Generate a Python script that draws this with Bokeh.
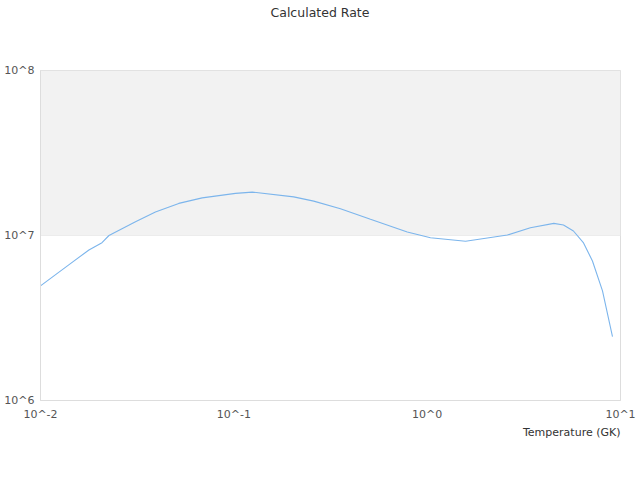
from bokeh.plotting import figure
from bokeh.embed import file_html
from bokeh.resources import INLINE
from bokeh.models import Title, FixedTicker, BoxAnnotation, CustomJSTickFormatter

temperature = [0.0100, 0.0140, 0.0178, 0.0208, 0.0226, 0.0310, 0.0393, 0.0519, 0.0686,
               0.102, 0.1245, 0.204, 0.259, 0.356, 0.509, 0.789, 1.04, 1.58, 2.60,
               3.42, 4.52, 5.07, 5.71, 6.44, 7.16, 8.07, 9.09]
rate = [4.95e6, 6.64e6, 8.17e6, 9.05e6, 1.00e7, 1.21e7, 1.387e7, 1.565e7, 1.69e7,
        1.80e7, 1.832e7, 1.715e7, 1.616e7, 1.452e7, 1.253e7, 1.05e7, 9.70e6, 9.23e6, 1.007e7,
        1.115e7, 1.185e7, 1.157e7, 1.065e7, 9.01e6, 7.01e6, 4.62e6, 2.44e6]
x_ticks = [0.01, 0.1, 1, 10]
y_ticks = [1e6, 1e7, 1e8]

p = figure(width=636, height=464, x_axis_type="log", y_axis_type="log",
           x_range=(0.01, 10), y_range=(1e6, 1e8), title="Calculated Rate",
           output_backend="svg", toolbar_location=None,
           min_border_left=40, min_border_right=16, min_border_top=69, min_border_bottom=64)

p.title.align = "left"
p.title.offset = 230
p.title.text_font = "DejaVu Sans"
p.title.text_font_size = "12.5px"
p.title.text_font_style = "normal"
p.title.text_color = "#333333"
p.title.standoff = 4

# spacer nearest the frame
p.add_layout(Title(text=" ", text_font_size="12px", standoff=33), "above")

p.outline_line_color = "#dddddd"
p.background_fill_color = "white"
p.border_fill_color = "white"

band = BoxAnnotation(bottom=1e7, top=1e8, fill_color="#f2f2f2", fill_alpha=1.0,
                     line_color=None, level="underlay")
p.add_layout(band)

p.line(temperature, rate, line_color="#7cb5ec", line_width=1.1)

fmt = CustomJSTickFormatter(code="return '10^' + Math.round(Math.log10(tick)).toString();")

for ax in (p.xaxis[0], p.yaxis[0]):
    ax.formatter = fmt
    ax.major_tick_line_color = None
    ax.minor_tick_line_color = None
    ax.major_tick_out = 0
    ax.major_tick_in = 0
    ax.minor_tick_out = 0
    ax.axis_line_color = "#dddddd"
    ax.major_label_text_font = "DejaVu Sans"
    ax.major_label_text_font_size = "11px"
    ax.major_label_text_color = "#555555"

p.xaxis[0].ticker = FixedTicker(ticks=x_ticks)
p.yaxis[0].ticker = FixedTicker(ticks=y_ticks)
p.xaxis[0].major_label_standoff = 7
p.yaxis[0].major_label_standoff = 6

p.xgrid.grid_line_color = None
p.ygrid.ticker = FixedTicker(ticks=y_ticks)
p.ygrid.grid_line_color = "#e6e6e6"

p.add_layout(Title(text="Temperature (GK)", align="right", text_font="DejaVu Sans",
                   text_font_size="11px", text_font_style="normal", text_color="#333333",
                   standoff=0), "below")

open("out.html", "w").write(file_html(p, INLINE))
